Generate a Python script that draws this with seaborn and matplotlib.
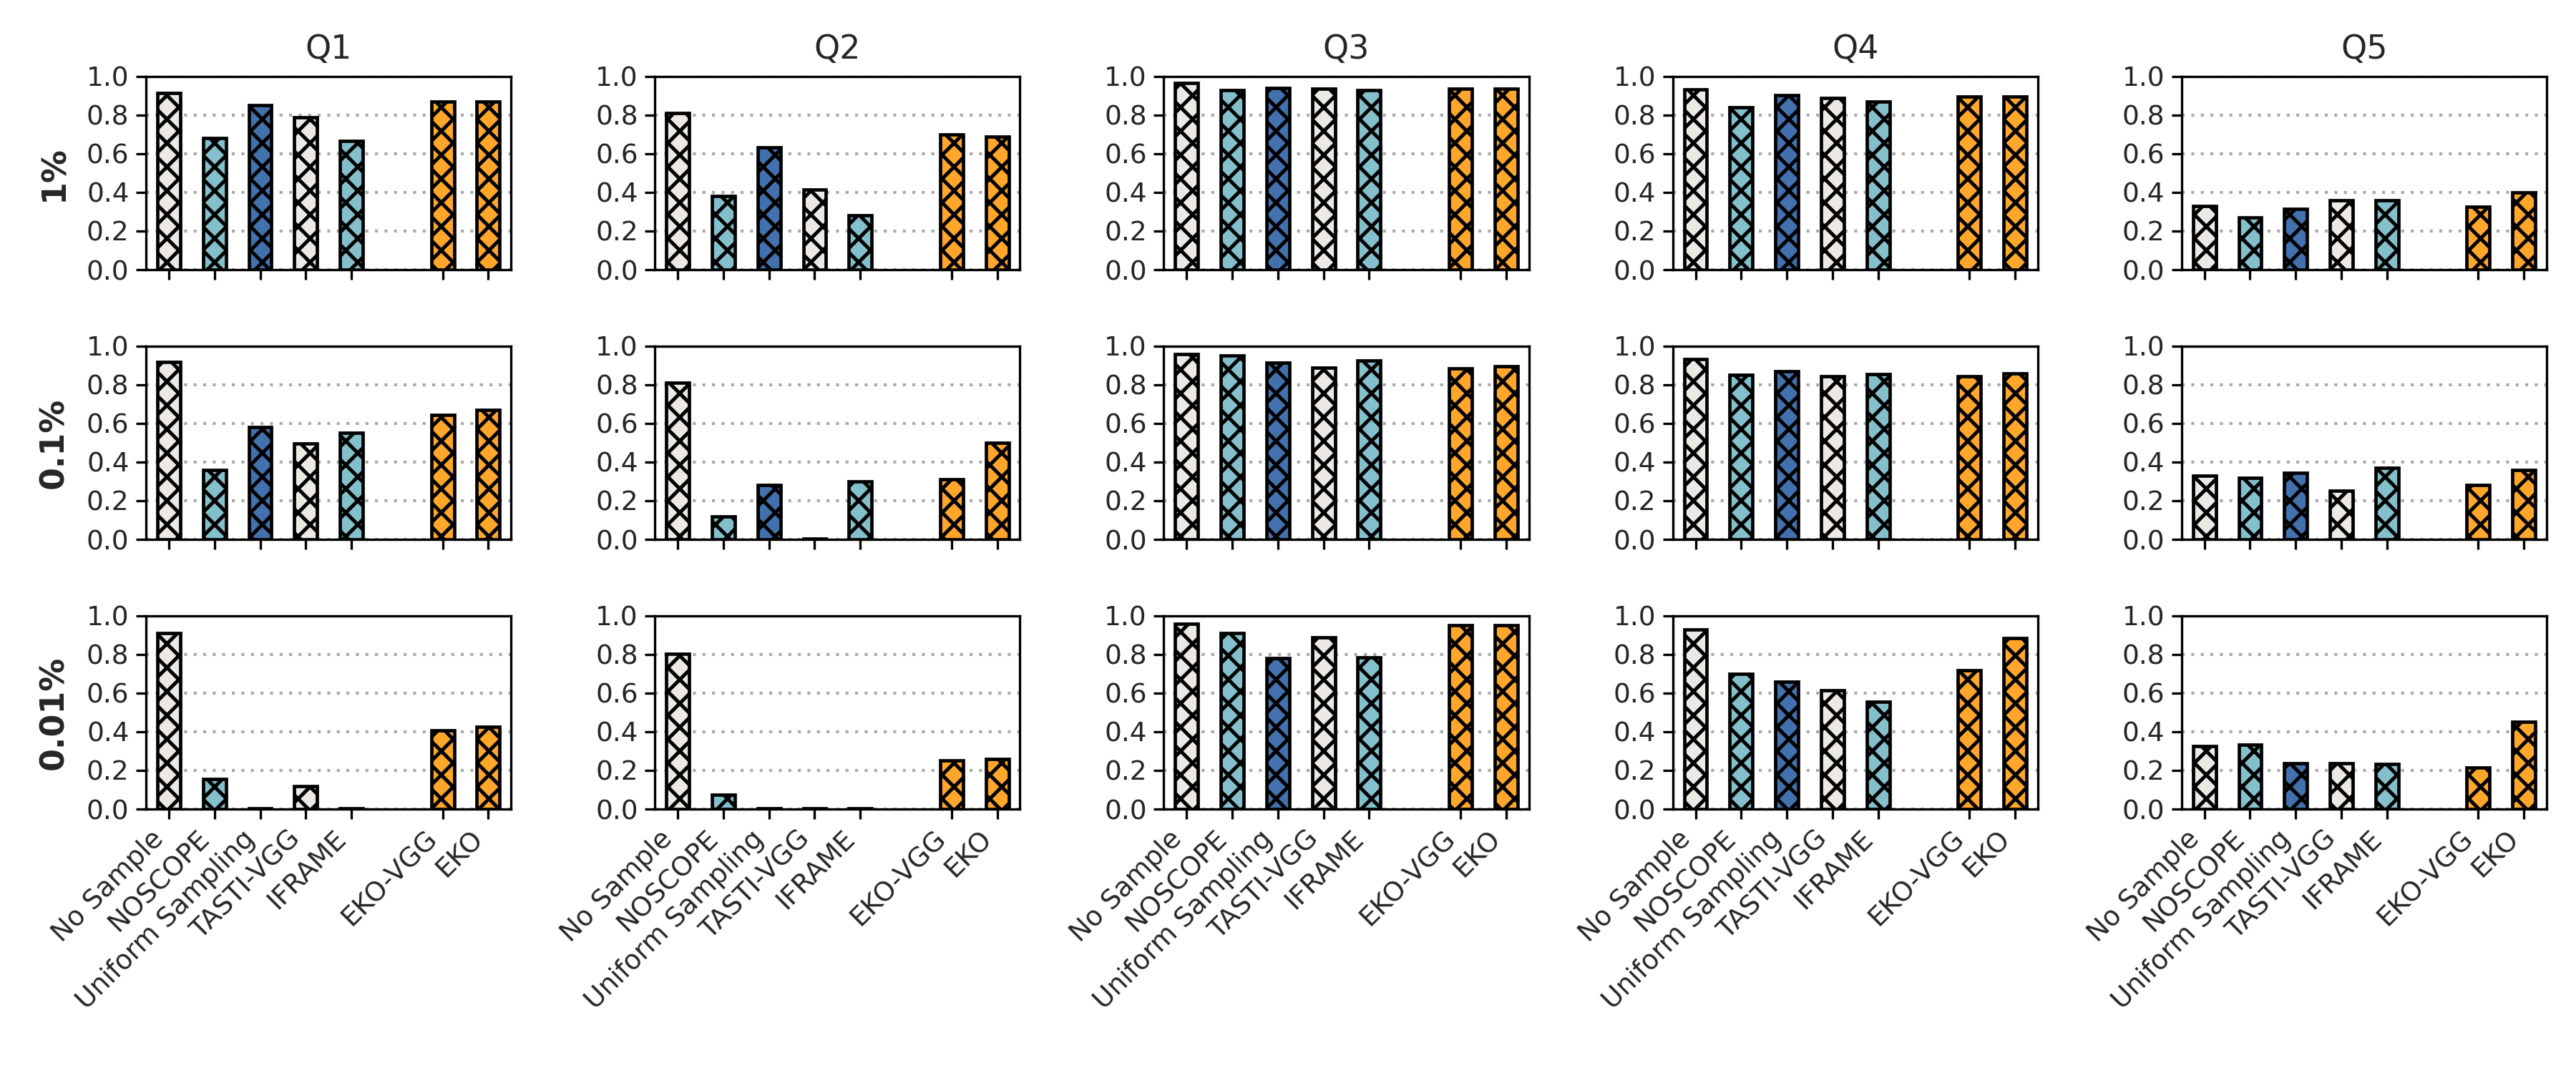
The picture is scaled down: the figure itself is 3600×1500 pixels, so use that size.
import matplotlib
matplotlib.use("Agg")
import matplotlib.pyplot as plt
import seaborn as sns
import pandas as pd

# ---------------- data ----------------
queries = ["Q1", "Q2", "Q3", "Q4", "Q5"]
rates = ["1%", "0.1%", "0.01%"]
methods = ["No Sample", "NOSCOPE", "Uniform Sampling", "TASTI-VGG", "IFRAME", "EKO-VGG", "EKO"]

q1_1 = [0.913, 0.682, 0.851, 0.787, 0.668, 0.869, 0.869]
q2_1 = [0.81, 0.38, 0.635, 0.415, 0.28, 0.70, 0.69]
q3_1 = [0.965, 0.931, 0.942, 0.936, 0.931, 0.936, 0.938]
q4_1 = [0.935, 0.84, 0.905, 0.89, 0.87, 0.895, 0.895]
q5_1 = [0.33, 0.27, 0.315, 0.36, 0.36, 0.325, 0.40]

q1_01 = [0.917, 0.361, 0.580, 0.496, 0.550, 0.645, 0.672]
q2_01 = [0.81, 0.12, 0.28, 0.004, 0.30, 0.31, 0.50]
q3_01 = [0.96, 0.95, 0.915, 0.89, 0.925, 0.885, 0.895]
q4_01 = [0.935, 0.85, 0.87, 0.845, 0.855, 0.845, 0.86]
q5_01 = [0.33, 0.32, 0.345, 0.25, 0.37, 0.28, 0.36]

q1_001 = [0.910, 0.154, 0.003, 0.117, 0.003, 0.406, 0.427]
q2_001 = [0.805, 0.074, 0.003, 0.003, 0.003, 0.25, 0.26]
q3_001 = [0.96, 0.91, 0.78, 0.89, 0.785, 0.95, 0.95]
q4_001 = [0.93, 0.70, 0.66, 0.615, 0.555, 0.72, 0.885]
q5_001 = [0.325, 0.333, 0.236, 0.236, 0.233, 0.214, 0.452]

values = {
    "1%": [q1_1, q2_1, q3_1, q4_1, q5_1],
    "0.1%": [q1_01, q2_01, q3_01, q4_01, q5_01],
    "0.01%": [q1_001, q2_001, q3_001, q4_001, q5_001],
}

colors = {
    "No Sample": "#ece8e4",
    "NOSCOPE": "#84c0cb",
    "Uniform Sampling": "#4271ae",
    "TASTI-VGG": "#ece8e4",
    "IFRAME": "#84c0cb",
    "EKO-VGG": "#ffa62b",
    "EKO": "#ffa62b",
}

# ---------------- style ----------------
sns.set_style("ticks")
plt.rcParams["font.family"] = ["DejaVu Sans"]
plt.rcParams["hatch.linewidth"] = 1.8
plt.rcParams["hatch.color"] = "black"
plt.rcParams["axes.linewidth"] = 1.2
plt.rcParams["axes.edgecolor"] = "black"

GAP = " "
order = methods[:5] + [GAP] + methods[5:]

fig, axes = plt.subplots(3, 5, figsize=(18, 7.5), dpi=200)
fig.subplots_adjust(left=0.0567, right=0.9886, top=0.9287, bottom=0.246,
                    wspace=0.394, hspace=0.396)

for r, rate in enumerate(rates):
    for c, q in enumerate(queries):
        ax = axes[r, c]
        df = pd.DataFrame({"method": methods, "value": values[rate][c]})
        sns.barplot(data=df, x="method", y="value", hue="method", order=order,
                    hue_order=methods, palette=colors, saturation=1, width=0.5,
                    dodge=False, edgecolor="black", linewidth=1.7, legend=False,
                    ax=ax, zorder=3)
        for p in ax.patches:
            p.set_hatch("xx")
        ax.set_ylim(0, 1.0)
        ax.set_yticks([0, 0.2, 0.4, 0.6, 0.8, 1.0])
        ax.set_yticklabels(["0.0", "0.2", "0.4", "0.6", "0.8", "1.0"])
        ax.yaxis.grid(True, linestyle=(0, (1, 2.2)), color="#aaaaaa", linewidth=1.5)
        ax.set_axisbelow(True)
        ticks = [i for i, m in enumerate(order) if m != GAP]
        ax.set_xticks(ticks)
        if r == 2:
            ax.set_xticklabels([m for m in order if m != GAP], rotation=45, ha="right",
                               rotation_mode="default", fontsize=13.5)
        else:
            ax.set_xticklabels([])
        ax.tick_params(axis="both", length=5, width=1.2, labelsize=13.5, color="black")
        ax.set_xlabel("")
        if c == 0:
            ax.set_ylabel(rate, fontsize=16.5, fontweight="bold", labelpad=8)
        else:
            ax.set_ylabel("")
        if r == 0:
            ax.set_title(q, fontsize=16.5, pad=9)
        for s in ax.spines.values():
            s.set_visible(True)
            s.set_color("black")
            s.set_linewidth(1.2)

fig.savefig("out.png", dpi=200)
